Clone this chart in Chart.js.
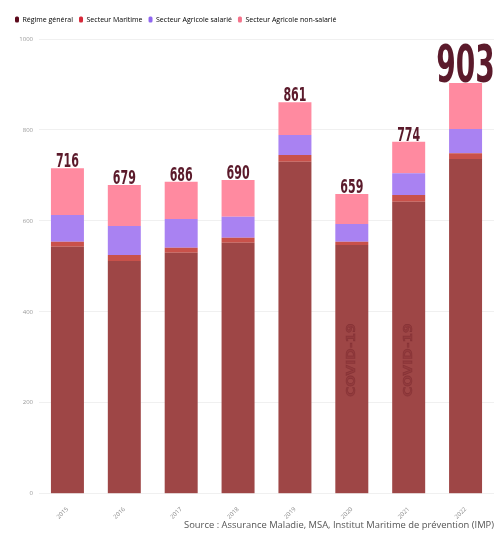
<!DOCTYPE html>
<html>
<head>
<meta charset="utf-8">
<script src="https://cdn.jsdelivr.net/npm/chart.js@4.4.1/dist/chart.umd.min.js"></script>
<style>
  html, body { margin: 0; padding: 0; background: #ffffff; }
  #wrap { width: 503px; height: 537px; position: relative; }
</style>
</head>
<body>
<div id="wrap"><canvas id="c" width="503" height="537"></canvas></div>
<script>
const years = ['2015', '2016', '2017', '2018', '2019', '2020', '2021', '2022'];
const regimeGeneral = [543, 512, 530, 552, 730, 547, 642, 736];
const secteurMaritime = [11, 13, 11, 11, 15, 7, 15, 13];
const agricoleSalarie = [59, 64, 63, 46, 44, 39, 48, 53];
const agricoleNonSalarie = [103, 90, 82, 81, 72, 66, 69, 101];
const covidYears = ['2020', '2021'];
const yTicks = [0, 200, 400, 600, 800, 1000];
const sourceText = 'Source : Assurance Maladie, MSA, Institut Maritime de prévention (IMP)';

const barColors = ['#9e4646', '#c9514a', '#a982f2', '#ff8aa0'];
const legendColors = ['#5c0a1c', '#d62839', '#8f66f0', '#f4728a'];

const totals = years.map((_, i) => regimeGeneral[i] + secteurMaritime[i] + agricoleSalarie[i] + agricoleNonSalarie[i]);
const maxIndex = totals.indexOf(Math.max(...totals));

const condensed = '"Liberation Sans Narrow", "DejaVu Sans Condensed", "Roboto", sans-serif';

const legendHeightPlugin = {
  id: 'legendHeight',
  beforeInit(chart) {
    const orig = chart.legend.fit;
    chart.legend.fit = function () {
      orig.call(this);
      this.height = 29;
    };
  }
};

const totalsPlugin = {
  id: 'totals',
  afterDatasetsDraw(chart) {
    const ctx = chart.ctx;
    const topMeta = chart.getDatasetMeta(3);
    const yScale = chart.scales.y;
    ctx.save();
    // COVID-19 vertical text
    covidYears.forEach(yr => {
      const i = years.indexOf(yr);
      const el = chart.getDatasetMeta(0).data[i];
      const cy = yScale.getPixelForValue(294);
      ctx.save();
      ctx.translate(el.x, cy);
      ctx.rotate(-Math.PI / 2);
      ctx.scale(0.95, 0.8);
      ctx.font = 'bold 16px ' + condensed;
      ctx.textAlign = 'center';
      ctx.textBaseline = 'middle';
      ctx.fillStyle = 'rgba(125, 40, 45, 0.35)';
      ctx.strokeStyle = 'rgba(90, 20, 30, 0.3)';
      ctx.lineWidth = 0.7;
      ctx.fillText('COVID-19', 0, 0);
      ctx.strokeText('COVID-19', 0, 0);
      ctx.restore();
    });
    // totals
    topMeta.data.forEach((el, i) => {
      const big = i === maxIndex;
      const size = big ? 52 : 19.5;
      ctx.save();
      ctx.translate(el.x, el.y - 1);
      ctx.scale(big ? 0.6 : 0.63, 1);
      ctx.font = 'bold ' + size + 'px ' + condensed;
      ctx.textAlign = 'center';
      ctx.textBaseline = 'alphabetic';
      ctx.fillStyle = '#5b1a2b';
      ctx.fillText(String(totals[i]), 0, 0);
      ctx.restore();
    });
    ctx.restore();
  }
};

const datasets = [
  { label: 'Régime général', data: regimeGeneral },
  { label: 'Secteur Maritime', data: secteurMaritime },
  { label: 'Secteur Agricole salarié', data: agricoleSalarie },
  { label: 'Secteur Agricole non-salarié', data: agricoleNonSalarie }
].map((d, k) => Object.assign(d, {
  backgroundColor: barColors[k],
  borderWidth: 0,
  categoryPercentage: 0.58,
  barPercentage: 1.0
}));

new Chart(document.getElementById('c'), {
  type: 'bar',
  data: { labels: years, datasets },
  options: {
    responsive: false,
    animation: false,
    devicePixelRatio: 1,
    layout: { padding: { left: 9, right: 9, top: 10, bottom: 6 } },
    plugins: {
      legend: {
        position: 'top',
        align: 'start',
        labels: {
          boxWidth: 4,
          boxHeight: 6,
          padding: 6,
          color: '#777',
          font: { family: '"Open Sans", sans-serif', size: 7 },
          generateLabels(chart) {
            return chart.data.datasets.map((ds, k) => ({
              text: ds.label,
              fillStyle: legendColors[k],
              strokeStyle: legendColors[k],
              lineWidth: 0,
              hidden: false,
              datasetIndex: k,
              borderRadius: 1.5
            }));
          }
        }
      },
      subtitle: {
        display: true,
        text: sourceText,
        position: 'bottom',
        align: 'end',
        color: '#555',
        font: { family: '"Open Sans", sans-serif', size: 9.4, weight: 'normal' },
        padding: 0
      },
      tooltip: { enabled: false }
    },
    scales: {
      x: {
        stacked: true,
        grid: { display: false },
        border: { display: false },
        ticks: {
          color: '#888',
          font: { family: '"Open Sans", sans-serif', size: 6 },
          maxRotation: 45,
          minRotation: 45,
          padding: 4
        },
        afterFit(scale) { scale.height = 26; }
      },
      y: {
        stacked: true,
        min: 0,
        max: 1000,
        afterBuildTicks(scale) { scale.ticks = yTicks.map(v => ({ value: v })); },
        grid: { color: 'rgba(0,0,0,0.06)', drawTicks: false },
        border: { display: false },
        ticks: {
          color: '#999',
          font: { family: '"Open Sans", sans-serif', size: 6 },
          padding: 6,
          callback: v => String(v)
        },
        afterFit(scale) { scale.width = 30; }
      }
    }
  },
  plugins: [legendHeightPlugin, totalsPlugin]
});
</script>
</body>
</html>
